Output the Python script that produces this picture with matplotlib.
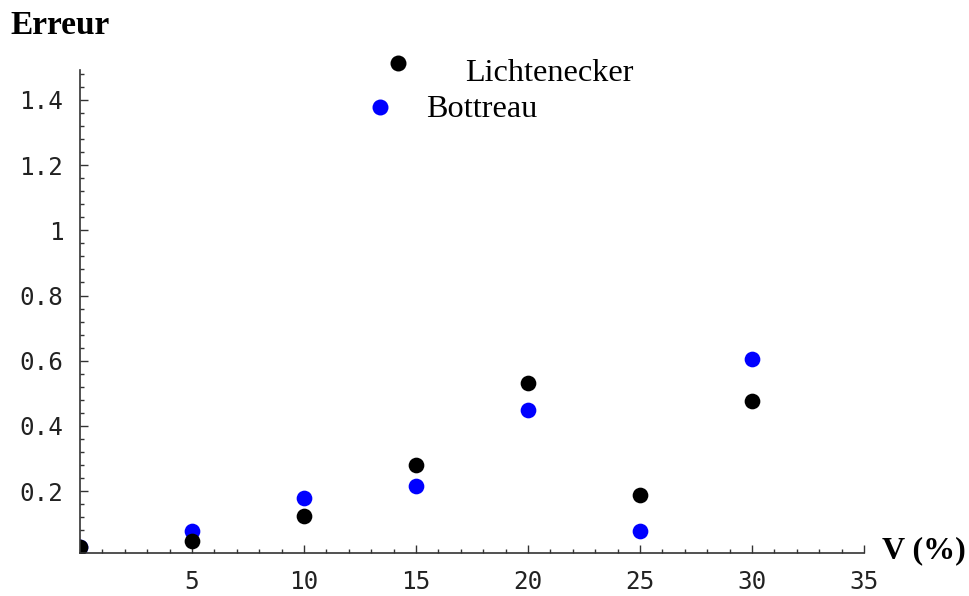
import matplotlib.pyplot as plt
from matplotlib.ticker import MultipleLocator, FixedLocator, FuncFormatter

# Données
v = [0, 5, 10, 15, 20, 25, 30]
lichtenecker = [0.028, 0.047, 0.123, 0.28, 0.532, 0.188, 0.476]
bottreau = [0.028, 0.077, 0.179, 0.215, 0.449, 0.077, 0.605]

x_ticks = [5, 10, 15, 20, 25, 30, 35]
y_ticks = [0.2, 0.4, 0.6, 0.8, 1.0, 1.2, 1.4]

fig = plt.figure(figsize=(9.7, 5.96), dpi=100)
ax = fig.add_axes([80 / 970, 43 / 596, 784 / 970, 483 / 596])

ax.plot(v, bottreau, 'o', color='#0000ff', ms=11.3, mec='none')
ax.plot(v, lichtenecker, 'o', color='black', ms=11.3, mec='none')

ax.set_xlim(0, 35)
ax.set_ylim(0.01, 1.492)

for s in ['top', 'right']:
    ax.spines[s].set_visible(False)
for s in ['left', 'bottom']:
    ax.spines[s].set_linewidth(1.2)
    ax.spines[s].set_color('#333333')

ax.xaxis.set_major_locator(FixedLocator(x_ticks))
ax.xaxis.set_minor_locator(MultipleLocator(1))
ax.yaxis.set_major_locator(FixedLocator(y_ticks))
ax.yaxis.set_minor_locator(MultipleLocator(0.04))
ax.yaxis.set_major_formatter(FuncFormatter(lambda y, p: '%g' % round(y, 2)))

ax.tick_params(which='both', direction='in', color='#333333', width=1)
ax.tick_params(which='major', length=6, pad=12)
ax.tick_params(which='minor', length=3)
for lab in ax.get_xticklabels() + ax.get_yticklabels():
    lab.set_family('DejaVu Sans Mono')
    lab.set_fontsize(17.5)
    lab.set_color('#222222')

# Titres des axes
fig.text(10 / 970, 1 - 34 / 596, 'Erreur', family='Liberation Serif',
         weight='bold', fontsize=24, va='baseline', ha='left')
fig.text(882 / 970, 1 - 558 / 596, 'V (%)', family='Liberation Serif',
         weight='bold', fontsize=23, va='baseline', ha='left')

# Légende
fig.lines.append(plt.Line2D([398 / 970], [1 - 63 / 596], marker='o', color='black',
                            ms=11.5, mec='none', transform=fig.transFigure))
fig.lines.append(plt.Line2D([380 / 970], [1 - 107 / 596], marker='o', color='#0000ff',
                            ms=11.5, mec='none', transform=fig.transFigure))
fig.text(465 / 970, 1 - 81 / 596, 'Lichtenecker', family='Liberation Serif',
         fontsize=23.2, va='baseline', ha='left')
fig.text(426 / 970, 1 - 117 / 596, 'Bottreau', family='Liberation Serif',
         fontsize=23.2, va='baseline', ha='left')

fig.savefig('out.png', dpi=100)
